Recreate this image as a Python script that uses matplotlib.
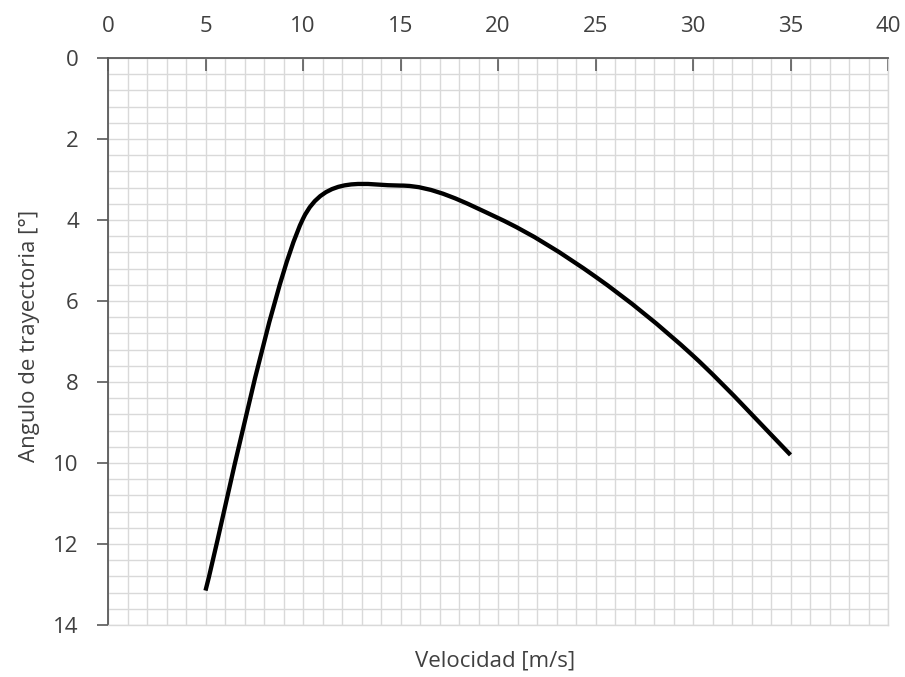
import numpy as np
import matplotlib.pyplot as plt
from matplotlib.path import Path
from matplotlib.patches import PathPatch
from matplotlib.ticker import MultipleLocator

plt.rcParams['font.family'] = ['Open Sans', 'DejaVu Sans']

velocidad = [5, 10, 15, 20, 25, 30, 35]
angulo = [13.15, 3.97, 3.15, 3.95, 5.4, 7.35, 9.8]

x_ticks = [0, 5, 10, 15, 20, 25, 30, 35, 40]
y_ticks = [0, 2, 4, 6, 8, 10, 12, 14]

# pixels per data unit, so the smoothing works in screen space
PX_X = 780 / 40
PX_Y = 567 / 14


def smooth_path(xs, ys):
    # cubic Bezier through the points; each control arm is 1/6 of the
    # neighbour chord, but never longer than half of its own segment
    pts = np.column_stack([xs, ys]).astype(float)
    scale = np.array([PX_X, PX_Y])
    n = len(pts)

    def dist(a, b):
        return np.hypot(*((b - a) * scale))

    def arms(i):
        prev = pts[max(i - 1, 0)]
        nxt = pts[min(i + 1, n - 1)]
        chord = nxt - prev
        d02 = dist(prev, nxt)
        if d02 == 0:
            return np.zeros(2), np.zeros(2)
        f_in = min(1 / 6, 0.5 * dist(prev, pts[i]) / d02)
        f_out = min(1 / 6, 0.5 * dist(pts[i], nxt) / d02)
        return chord * f_in, chord * f_out

    verts = [pts[0]]
    codes = [Path.MOVETO]
    for i in range(n - 1):
        _, out_arm = arms(i)
        in_arm, _ = arms(i + 1)
        if i == 0:
            out_arm = (pts[1] - pts[0]) / 6
        if i + 1 == n - 1:
            in_arm = (pts[-1] - pts[-2]) / 6
        verts += [pts[i] + out_arm, pts[i + 1] - in_arm, pts[i + 1]]
        codes += [Path.CURVE4] * 3
    return Path(verts, codes)


fig = plt.figure(figsize=(9.05, 6.77), dpi=100)
ax = fig.add_axes([108 / 905, 1 - 625 / 677, 780 / 905, 567 / 677])

ax.set_xlim(0, 40)
ax.set_ylim(14, 0)

grid_col = '#d9d9d9'
axis_col = '#595959'
text_col = '#404040'

ax.xaxis.set_major_locator(MultipleLocator(5))
ax.xaxis.set_minor_locator(MultipleLocator(1))
ax.yaxis.set_major_locator(MultipleLocator(2))
ax.yaxis.set_minor_locator(MultipleLocator(0.4))
ax.grid(True, which='both', color=grid_col, lw=1.0)
ax.set_axisbelow(True)

ax.xaxis.tick_top()
ax.set_xticks(x_ticks)
ax.set_yticks(y_ticks)
ax.tick_params(axis='x', which='major', direction='in', length=9,
               width=1.2, color=axis_col, labelcolor=text_col,
               labelsize=16, pad=15)
ax.tick_params(axis='y', which='major', direction='out', length=8,
               width=1.2, color=axis_col, labelcolor=text_col,
               labelsize=16, pad=13)
ax.tick_params(axis='both', which='minor', length=0)

for side in ['left', 'top']:
    ax.spines[side].set_color(axis_col)
    ax.spines[side].set_linewidth(1.3)
for side in ['right', 'bottom']:
    ax.spines[side].set_color(grid_col)
    ax.spines[side].set_linewidth(1.0)

curve = PathPatch(smooth_path(velocidad, angulo), facecolor='none',
                  edgecolor='black', lw=3.1, capstyle='butt', zorder=3)
ax.add_patch(curve)

fig.text(495 / 905, 1 - 661 / 677, 'Velocidad [m/s]', ha='center',
         va='center', fontsize=16, color=text_col)
fig.text(29 / 905, 1 - 336 / 677, 'Angulo de trayectoria [°]', ha='center',
         va='center', rotation=90, fontsize=16, color=text_col)

fig.savefig('out.png', dpi=100)
